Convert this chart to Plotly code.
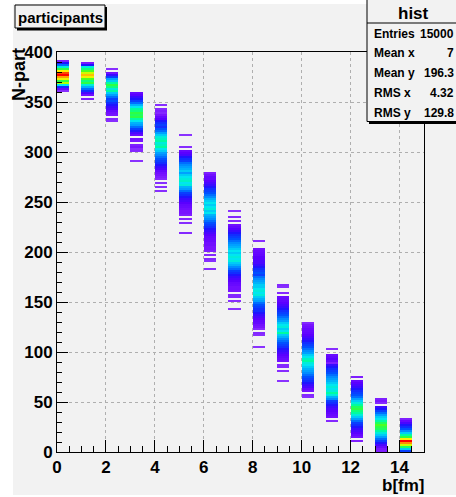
import plotly.graph_objects as go

# ---------------- data ----------------
# impact parameter columns (bin [b, b+0.5])
B_VALUES = [0, 1, 2, 3, 4, 5, 6, 7, 8, 9, 10, 11, 12, 13, 14]
# lower edge of the top-most N-part bin (bins are 2 wide) for each column
TOP_EDGES = [390, 388, 382, 358, 346, 316, 278, 240, 210, 166, 128, 102, 74, 52, 32]
# counts per 2-unit N-part bin, from the top bin downward
COUNTS_B0 = [8, 25, 35, 50, 62, 80, 95, 100, 88, 78, 62, 72, 48, 28, 15, 5]
COUNTS_B1 = [10, 25, 50, 58, 65, 75, 85, 78, 65, 58, 62, 50, 42, 35, 28, 20, 12, 0, 8]
COUNTS_B2 = [5, 0, 12, 22, 30, 40, 45, 55, 62, 58, 50, 55, 45, 40, 35, 30, 32, 28, 25, 22,
             20, 15, 12, 10, 0, 6, 5]
COUNTS_B3 = [15, 18, 22, 25, 30, 35, 42, 48, 55, 58, 62, 60, 62, 55, 48, 42, 40, 35, 30, 25,
             20, 15, 0, 12, 10, 0, 8, 10, 5, 6, 0, 0, 0, 0, 4]
COUNTS_B4 = [5, 0, 6, 8, 6, 10, 15, 18, 25, 28, 30, 28, 32, 35, 40, 45, 50, 52, 55, 50,
             52, 55, 48, 45, 40, 38, 35, 32, 30, 28, 25, 22, 20, 15, 12, 10, 8, 6, 0, 5,
             0, 5, 0, 5]
COUNTS_B5 = [4, 0, 0, 0, 0, 0, 5, 0, 15, 18, 20, 25, 28, 30, 35, 38, 40, 42, 45, 40,
             45, 48, 50, 52, 48, 50, 42, 40, 35, 30, 28, 25, 22, 20, 18, 15, 14, 12, 10, 10,
             8, 0, 6, 0, 5, 0, 0, 0, 0, 6]
COUNTS_B6 = [8, 12, 15, 15, 18, 20, 22, 25, 28, 30, 32, 35, 38, 42, 45, 48, 45, 48, 50, 45,
             48, 42, 40, 38, 35, 32, 30, 28, 25, 22, 20, 18, 16, 15, 14, 12, 12, 10, 10, 8,
             0, 6, 0, 6, 5, 0, 0, 0, 5]
COUNTS_B7 = [4, 0, 0, 6, 0, 6, 0, 12, 15, 18, 22, 25, 28, 30, 32, 35, 38, 40, 42, 45,
             48, 45, 48, 50, 48, 50, 45, 42, 38, 35, 30, 28, 25, 22, 20, 18, 15, 14, 12, 12,
             10, 0, 6, 6, 0, 5, 0, 0, 0, 4]
COUNTS_B8 = [5, 0, 0, 0, 12, 14, 15, 16, 18, 18, 20, 20, 22, 25, 28, 30, 32, 30, 35, 38,
             40, 42, 45, 45, 48, 50, 48, 50, 45, 42, 40, 35, 32, 30, 28, 28, 25, 22, 20, 18,
             16, 15, 12, 10, 6, 0, 6, 5, 0, 0, 0, 0, 0, 4]
COUNTS_B9 = [6, 5, 0, 0, 6, 0, 14, 15, 16, 18, 20, 22, 25, 28, 30, 32, 35, 38, 40, 45,
             48, 50, 45, 48, 55, 45, 42, 38, 35, 32, 30, 28, 25, 22, 20, 18, 16, 14, 12, 0,
             6, 6, 0, 5, 0, 0, 0, 0, 4]
COUNTS_B10 = [6, 10, 12, 14, 15, 16, 18, 20, 22, 25, 28, 30, 32, 35, 38, 40, 45, 48, 52, 55,
              50, 48, 45, 42, 40, 38, 35, 32, 30, 28, 25, 22, 20, 16, 12, 0, 6, 5]
COUNTS_B11 = [5, 0, 0, 14, 16, 18, 15, 8, 22, 25, 28, 30, 32, 35, 38, 40, 42, 45, 48, 50,
              48, 50, 55, 50, 42, 38, 30, 28, 25, 22, 20, 18, 16, 14, 12, 0, 6]
COUNTS_B12 = [8, 0, 15, 18, 20, 22, 25, 28, 30, 32, 35, 40, 45, 50, 55, 60, 62, 58, 55, 50,
              45, 40, 35, 30, 28, 25, 22, 20, 18, 15, 12, 0, 8]
COUNTS_B13 = [8, 10, 6, 0, 22, 25, 30, 35, 40, 45, 48, 55, 60, 65, 62, 60, 55, 50, 45, 40,
              35, 30, 25, 20, 15, 10, 8]
COUNTS_B14 = [8, 15, 20, 25, 28, 32, 38, 45, 55, 62, 80, 100, 90, 75, 60, 45, 30]

COLUMNS = [COUNTS_B0, COUNTS_B1, COUNTS_B2, COUNTS_B3, COUNTS_B4, COUNTS_B5, COUNTS_B6,
           COUNTS_B7, COUNTS_B8, COUNTS_B9, COUNTS_B10, COUNTS_B11, COUNTS_B12, COUNTS_B13,
           COUNTS_B14]

STATS_LABELS = ["Entries", "Mean x", "Mean y", "RMS x", "RMS y"]
STATS_VALUES = ["15000", "7", "196.3", "4.32", "129.8"]

# ---------------- histogram grid ----------------
NX, X_MIN, X_MAX = 30, 0.0, 15.0
NY, Y_MIN, Y_MAX = 200, 0.0, 400.0
dx = (X_MAX - X_MIN) / NX
dy = (Y_MAX - Y_MIN) / NY
z = [[None] * NX for _ in range(NY)]
for b, top, counts in zip(B_VALUES, TOP_EDGES, COLUMNS):
    ix = int(round((b - X_MIN) / dx))
    for i, c in enumerate(counts):
        low = top - 2 * i
        if low < 0 or not c:
            continue
        iy = int(round((low - Y_MIN) / dy))
        z[iy][ix] = c

xc = [X_MIN + dx * (i + 0.5) for i in range(NX)]
yc = [Y_MIN + dy * (j + 0.5) for j in range(NY)]

colorscale = [
    [0.00, "rgb(150,70,255)"],
    [0.10, "rgb(120,20,255)"],
    [0.18, "rgb(90,0,255)"],
    [0.25, "rgb(30,20,255)"],
    [0.32, "rgb(0,80,255)"],
    [0.40, "rgb(0,160,255)"],
    [0.48, "rgb(0,230,240)"],
    [0.56, "rgb(0,255,150)"],
    [0.64, "rgb(60,255,40)"],
    [0.72, "rgb(180,255,0)"],
    [0.80, "rgb(255,240,0)"],
    [0.90, "rgb(255,140,0)"],
    [1.00, "rgb(255,0,0)"],
]

fig = go.Figure(go.Heatmap(x=xc, y=yc, z=z, colorscale=colorscale, zmin=0, zmax=100,
                           showscale=False, hoverongaps=False))

W, H = 456, 497
L, R, T, B = 57, 32, 52, 45
PW, PH = W - L - R, H - T - B


def px(xp):
    return (xp - L) / PW


def py(yp):
    return (H - B - yp) / PH


BG = "rgb(242,242,242)"
FONT = "Liberation Sans"
tickfont = dict(family=FONT, size=17, color="black", weight="bold")
GRID = "rgb(175,175,175)"

fig.update_layout(
    width=W, height=H,
    margin=dict(l=L, r=R, t=T, b=B, pad=0),
    paper_bgcolor="white",
    plot_bgcolor="rgba(0,0,0,0)",
    showlegend=False,
)
fig.update_xaxes(range=[X_MIN, X_MAX], dtick=2, tick0=0, ticks="inside", ticklen=12,
                 tickcolor="black", showline=True, mirror=True, linecolor="black",
                 linewidth=1, showgrid=True, gridcolor=GRID, griddash="dot",
                 gridwidth=1, zeroline=False, tickfont=tickfont,
                 minor=dict(dtick=0.5, ticks="inside", ticklen=6, tickcolor="black",
                            showgrid=False))
fig.update_yaxes(range=[Y_MIN, Y_MAX], dtick=50, tick0=0, ticks="inside", ticklen=11,
                 tickcolor="black", showline=True, mirror=True, linecolor="black",
                 linewidth=1, showgrid=True, gridcolor=GRID, griddash="dot",
                 gridwidth=1, zeroline=False, tickfont=tickfont,
                 minor=dict(dtick=10, ticks="inside", ticklen=5, tickcolor="black",
                            showgrid=False))

shapes = []
# grey canvas pad
shapes.append(dict(type="rect", xref="paper", yref="paper", layer="below",
                   x0=px(13), x1=px(470), y0=py(495), y1=py(4),
                   fillcolor=BG, line=dict(width=0)))
# title box with shadow
shapes.append(dict(type="rect", xref="paper", yref="paper", layer="above",
                   x0=px(17), x1=px(107), y0=py(30.5), y1=py(7),
                   fillcolor="black", line=dict(width=0)))
shapes.append(dict(type="rect", xref="paper", yref="paper", layer="above",
                   x0=px(15), x1=px(105), y0=py(28), y1=py(5),
                   fillcolor=BG, line=dict(color="black", width=1)))
# stats box with shadow
shapes.append(dict(type="rect", xref="paper", yref="paper", layer="above",
                   x0=px(369), x1=px(475), y0=py(124), y1=py(-2),
                   fillcolor="black", line=dict(width=0)))
shapes.append(dict(type="rect", xref="paper", yref="paper", layer="above",
                   x0=px(367), x1=px(473), y0=py(121.5), y1=py(-4),
                   fillcolor=BG, line=dict(color="black", width=1)))
shapes.append(dict(type="line", xref="paper", yref="paper", layer="above",
                   x0=px(367), x1=px(473), y0=py(23), y1=py(23),
                   line=dict(color="black", width=1)))
fig.update_layout(shapes=shapes)

ann = []
ann.append(dict(text="participants", x=px(60), y=py(17), xref="paper", yref="paper",
                showarrow=False, xanchor="center", yanchor="middle",
                font=dict(family=FONT, size=15, color="black", weight="bold")))
ann.append(dict(text="hist", x=px(413.5), y=py(13), xref="paper", yref="paper",
                showarrow=False, xanchor="center", yanchor="middle",
                font=dict(family=FONT, size=17, color="black", weight="bold")))
row_y = [33.5, 53, 72.5, 93, 113]
for lab, val, yy in zip(STATS_LABELS, STATS_VALUES, row_y):
    ann.append(dict(text=lab, x=px(372), y=py(yy), xref="paper", yref="paper",
                    showarrow=False, xanchor="left", yanchor="middle",
                    font=dict(family=FONT, size=12, color="black", weight="bold")))
    ann.append(dict(text=val, x=px(455.5), y=py(yy), xref="paper", yref="paper",
                    showarrow=False, xanchor="right", yanchor="middle",
                    font=dict(family=FONT, size=12, color="black", weight="bold")))
ann.append(dict(text="N-part", x=px(19), y=py(75), xref="paper", yref="paper",
                showarrow=False, xanchor="center", yanchor="middle", textangle=-90,
                font=dict(family=FONT, size=18, color="black", weight="bold")))
ann.append(dict(text="b[fm]", x=px(402.5), y=py(485.5), xref="paper", yref="paper",
                showarrow=False, xanchor="center", yanchor="middle",
                font=dict(family=FONT, size=17, color="black", weight="bold")))
fig.update_layout(annotations=ann)

fig.write_html("out.html",
               config={"displayModeBar": False},
               post_script="document.body.style.margin='0px';"
                           "document.body.style.padding='0px';")
